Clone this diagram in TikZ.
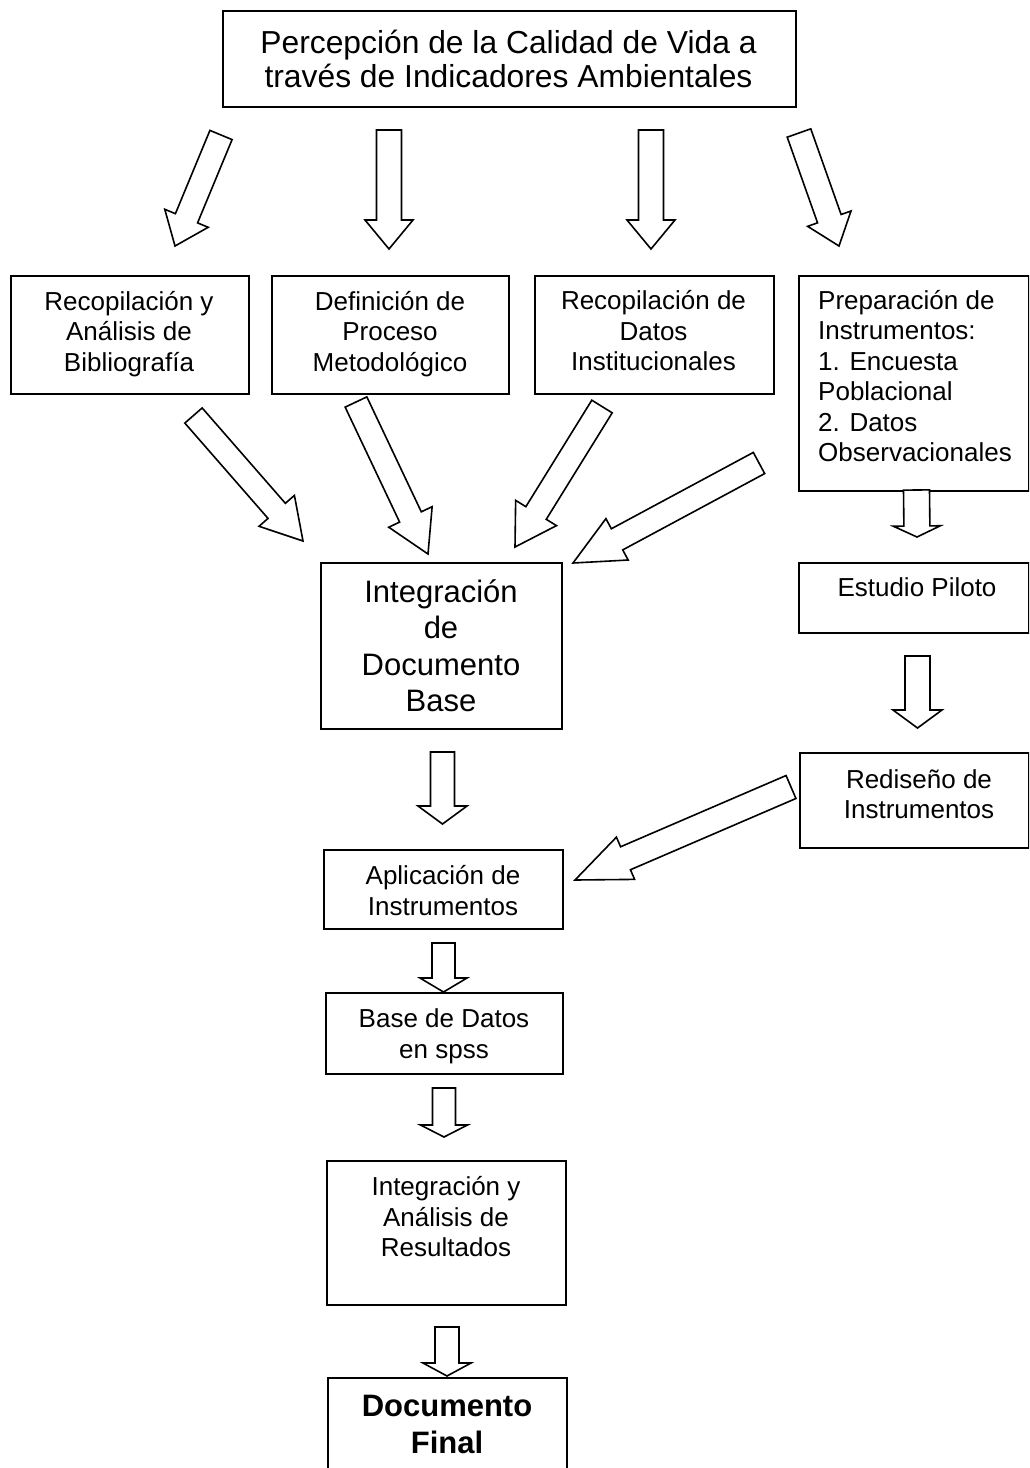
\documentclass[tikz,border=0pt]{standalone}
\usepackage{fontspec}
\setmainfont{Liberation Sans}
\usetikzlibrary{calc}
\tikzset{
  box/.style={draw, line width=1.5pt, anchor=north west, inner sep=0pt},
  txt/.style={align=center, inner sep=0pt, font=\fontsize{26}{30.5}\selectfont},
  barrow/.style={draw, line width=1.6pt, line join=miter, fill=white},
}
\newcommand\blockarrow[5]{% tail, tip, shaft half-width, head half-width, head length
  \coordinate (hb) at ($(#2)!#5!(#1)$);
  \draw[barrow] ($(#1)!#3!90:(#2)$) -- ($(hb)!#3!90:(#2)$) -- ($(hb)!#4!90:(#2)$) -- (#2)
    -- ($(hb)!#4!-90:(#2)$) -- ($(hb)!#3!-90:(#2)$) -- ($(#1)!#3!-90:(#2)$) -- cycle;
}
\begin{document}
\begin{tikzpicture}[x=1pt, y=-1pt]
\clip (0,0) rectangle (1029,1468);
\fill[white] (0,0) rectangle (1029,1468);

% boxes
\node[box, minimum width=573pt, minimum height=96pt] (top) at (222,10) {};
\node[box, minimum width=238pt, minimum height=118pt] (b1) at (10,275) {};
\node[box, minimum width=237pt, minimum height=118pt] (b2) at (271,275) {};
\node[box, minimum width=239pt, minimum height=118pt] (b3) at (534,275) {};
\node[box, minimum width=230pt, minimum height=215pt] (b4) at (798,275) {};
\node[box, minimum width=241pt, minimum height=166pt] (integ) at (320,562) {};
\node[box, minimum width=230pt, minimum height=70pt] (piloto) at (798,562) {};
\node[box, minimum width=229pt, minimum height=95pt] (redis) at (799,752) {};
\node[box, minimum width=239pt, minimum height=79pt] (aplic) at (323,849) {};
\node[box, minimum width=237pt, minimum height=81pt] (bdatos) at (325,992) {};
\node[box, minimum width=239pt, minimum height=144pt] (anal) at (326,1160) {};
\node[box, minimum width=239pt, minimum height=120pt] (final) at (327,1377) {};

% texts
\node[txt, font=\fontsize{31.8}{34}\selectfont] (toptxt) at (508.5,59) {Percepción de la Calidad de Vida a\\través de Indicadores Ambientales};
\node[txt] (b1txt) at (129,334) {Recopilación y\\Análisis de\\Bibliografía};
\node[txt] (b2txt) at (390,334) {Definición de\\Proceso\\Metodológico};
\node[txt] (b3txt) at (653.5,331) {Recopilación de\\Datos\\Institucionales};
\node[txt, align=left, anchor=west] (b4txt) at (818,376) {Preparación de\\Instrumentos:\\1. Encuesta\\Poblacional\\2. Datos\\Observacionales};
\node[txt, font=\fontsize{31}{36.5}\selectfont] (integtxt) at (441,645.5) {Integración\\de\\Documento\\Base};
\node[txt] (pilototxt) at (917,587) {Estudio Piloto};
\node[txt] (redistxt) at (919,794) {Rediseño de\\Instrumentos};
\node[txt] (aplictxt) at (443,890.5) {Aplicación de\\Instrumentos};
\node[txt] (bdatostxt) at (444,1036.5) {Base de Datos\\en spss};
\node[txt] (analtxt) at (446,1217) {Integración y\\Análisis de\\Resultados};
\node[txt, font=\fontsize{31}{37}\selectfont\bfseries] (finaltxt) at (447,1424.5) {Documento\\Final};

% arrow end points
\coordinate (a1t) at (221,135);   \coordinate (a1h) at (175,246);
\coordinate (a2t) at (389,130);   \coordinate (a2h) at (389,249);
\coordinate (a3t) at (651,130);   \coordinate (a3h) at (651,249);
\coordinate (a4t) at (799,133);   \coordinate (a4h) at (839,246);
\coordinate (a5t) at (193.5,415.5); \coordinate (a5h) at (303,541);
\coordinate (a6t) at (356,402);   \coordinate (a6h) at (428,554);
\coordinate (a7t) at (602,406.5); \coordinate (a7h) at (515,547);
\coordinate (a8t) at (759,463);   \coordinate (a8h) at (573,563);
\coordinate (a9t) at (916.5,490); \coordinate (a9h) at (917,537);
\coordinate (a10t) at (917.5,656); \coordinate (a10h) at (917.5,728);
\coordinate (a11t) at (442.5,752); \coordinate (a11h) at (442.5,824);
\coordinate (a12t) at (791,787);  \coordinate (a12h) at (575,880);
\coordinate (a13t) at (443.5,943); \coordinate (a13h) at (443.5,992);
\coordinate (a14t) at (444,1088); \coordinate (a14h) at (444,1137);
\coordinate (a15t) at (447,1327); \coordinate (a15h) at (447,1376);

\blockarrow{a1t}{a1h}{12pt}{23.5pt}{30pt}
\blockarrow{a2t}{a2h}{12.5pt}{24pt}{29pt}
\blockarrow{a3t}{a3h}{12.5pt}{24pt}{29pt}
\blockarrow{a4t}{a4h}{12.5pt}{23pt}{29pt}
\blockarrow{a5t}{a5h}{11.5pt}{23.5pt}{40pt}
\blockarrow{a6t}{a6h}{12pt}{24pt}{41pt}
\blockarrow{a7t}{a7h}{12pt}{24pt}{40pt}
\blockarrow{a8t}{a8h}{12pt}{23.5pt}{50pt}
\blockarrow{a9t}{a9h}{13pt}{23.5pt}{11pt}
\blockarrow{a10t}{a10h}{12.5pt}{24.5pt}{18pt}
\blockarrow{a11t}{a11h}{12pt}{24.5pt}{18pt}
\blockarrow{a12t}{a12h}{12.5pt}{23pt}{55pt}
\blockarrow{a13t}{a13h}{11.5pt}{23.5pt}{14pt}
\blockarrow{a14t}{a14h}{11.5pt}{23.5pt}{12pt}
\blockarrow{a15t}{a15h}{12pt}{24pt}{13pt}
\end{tikzpicture}
\end{document}
